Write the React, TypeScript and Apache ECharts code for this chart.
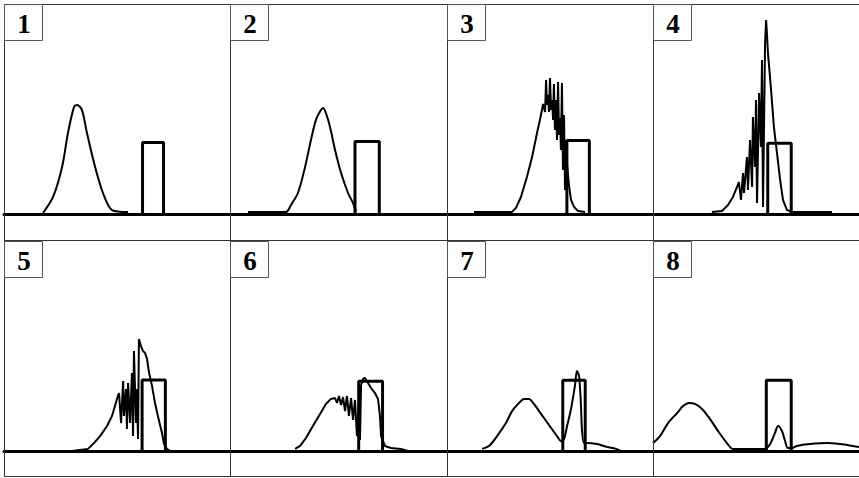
import { useEffect, useRef } from "react";
import * as echarts from "echarts";

// Panel labels
const panelLabels = ["1", "2", "3", "4", "5", "6", "7", "8"];

// Wave packet |psi|^2 per panel: [position, amplitude]
const wave1: number[][] = [
  [17.3, 0.5], [21.7, 8.1], [25.7, 22.4], [28.3, 38.6], [31, 51], [32.3, 51.9],
  [34.5, 49.5], [36.7, 38.6], [40.3, 22.4], [43.8, 10], [47.8, 1.9], [54.9, 1],
];
const wave2: number[][] = [
  [8.3, 1], [25.8, 1], [28.1, 4.3], [31.3, 10], [34.6, 22.4], [37.3, 35.2], [39.6, 44.8],
  [41.9, 49.5], [42.9, 50.5], [44.2, 48.1], [46.1, 41.4], [48.4, 30.5], [51.2, 19.5],
  [54.4, 10], [56.7, 5.2], [58.1, 1],
];
const wave3: number[][] = [
  [13.1, 1], [31.6, 1], [33.5, 2.9], [35.9, 8.1], [38.8, 17.6], [41.3, 27.1], [43.7, 38.6],
  [45.1, 44.8], [46.1, 49.5], [46.6, 52.4], [47.6, 48.6], [48.1, 63.8], [48.5, 51.9],
  [49, 56.7], [49.5, 48.6], [50, 64.8], [50.5, 49.5], [51, 54.3], [51.5, 44.8], [51.9, 61.9],
  [52.4, 40], [52.9, 54.3], [53.4, 35.2], [53.9, 62.9], [54.4, 37.6], [54.9, 45.7],
  [55.3, 30.5], [55.8, 62.4], [56.3, 21], [56.8, 47.1], [57.3, 11.4], [57.8, 35.2],
  [58.3, 23.3], [59.2, 13.8], [60.2, 6.7], [61.7, 3.3], [63.6, 1.4], [67, 1],
];
const wave4: number[][] = [
  [28.6, 1], [33.5, 1.4], [36.4, 4.3], [38.8, 8.1], [40.8, 12.9], [41.7, 15.2], [42.7, 6.7],
  [43.7, 19.5], [44.2, 10], [45.6, 27.1], [46.1, 11.4], [47.1, 35.2], [48.1, 12.9],
  [48.5, 46.2], [49.5, 22.4], [50, 54.3], [50.5, 5.2], [51.5, 57.6], [52.4, 31.9],
  [52.9, 73.3], [53.4, 3.3], [54.4, 81.4], [54.9, 92.4], [55.3, 86.2], [55.8, 76.7],
  [56.8, 65.2], [57.8, 52.9], [58.7, 41.4], [60.2, 29], [61.7, 16.2], [63.1, 6.7],
  [65, 1.9], [67.5, 1], [86.9, 1],
];
const wave5: number[][] = [
  [30.1, 0], [37.2, 1], [39.4, 3.3], [42.5, 7.1], [45.6, 11.9], [47.8, 16.7], [49.1, 21.4],
  [50, 24.8], [50.4, 26.2], [50.9, 27.6], [51.8, 13.3], [52.7, 33.3], [53.1, 16.7],
  [54, 29.5], [54.4, 10.5], [54.9, 32.4], [55.8, 13.3], [56.6, 37.1], [57.1, 7.1],
  [57.5, 47.6], [58.4, 13.3], [58.8, 29.5], [59.3, 5.7], [59.7, 53.3], [60.6, 50],
  [61.5, 47.6], [62.4, 46.7], [63.3, 43.8], [64.2, 37.1], [65.5, 31], [66.8, 22.9],
  [68.1, 16.7], [69.9, 8.6], [70.8, 3.3], [72.1, 1], [73.5, 0],
];
const wave6: number[][] = [
  [30, 1], [32.3, 2.4], [35, 6.2], [38.2, 11.9], [41.5, 17.6], [44.2, 22.4], [46.5, 24.8],
  [48.4, 25.2], [49.3, 22.9], [50.2, 26.2], [51.2, 21.9], [52.1, 25.7], [53, 19],
  [53.9, 26.2], [54.8, 16.7], [55.8, 25.2], [56.7, 14.8], [57.6, 24.3], [58.5, 7.1],
  [59.4, 21.9], [59.9, 5.2], [60.4, 31.4], [61.3, 34.3], [62.2, 34.8], [63.6, 32.4],
  [65, 30], [66.8, 27.6], [68.2, 24.8], [69.1, 16.7], [69.6, 7.1], [71.4, 2.4],
  [74.2, 1.4], [78.8, 1], [82, 0],
];
const wave7: number[][] = [
  [17, 1], [20.4, 2.4], [24.3, 7.1], [28.6, 13.3], [31.6, 19], [35, 22.9], [37.4, 24.8],
  [39.8, 24.8], [42.2, 22.4], [44.7, 19], [47.1, 15.7], [50.5, 11], [53.4, 7.1],
  [55.3, 4.8], [56.8, 5.7], [58.3, 11.9], [60.2, 20], [62.1, 31], [63.1, 38.1],
  [64.1, 35.7], [65, 22.4], [65.5, 10.5], [66.5, 3.8], [68, 3.8], [72.8, 3.3],
  [77.7, 1.9], [82, 1], [84.5, 0],
];
const wave8: number[][] = [
  [0, 3.8], [3.4, 7.1], [7.3, 13.3], [11.7, 18.1], [14.6, 21.4], [17.5, 22.9], [20.4, 22.4],
  [23.8, 20], [27.7, 15.2], [31.6, 9.5], [35.9, 3.8], [38.8, 1], [54.4, 1], [56.8, 3.3],
  [59.2, 8.6], [60.7, 11.9], [62.6, 9.5], [64.1, 4.8], [65.5, 1.4], [67.5, 1.4],
  [69.9, 2.4], [76.2, 3.3], [84.5, 3.8], [90.8, 3.3], [97.1, 2.4], [100, 1.9],
];
const waves = [wave1, wave2, wave3, wave4, wave5, wave6, wave7, wave8];

// Potential barrier per panel
const barrierLeft = [61.3, 57.6, 58.2, 55.7, 61.1, 59.3, 56.2, 55];
const barrierRight = [70.6, 68.8, 69.1, 67.1, 71.4, 70.3, 67.1, 67.1];
const barrierHeight = [34, 34.5, 35, 33.7, 33.8, 33.2, 33.7, 33.7];

// Layout (pixels)
const panelLeft = [4, 230, 447, 653, 4, 230, 447, 653];
const panelWidth = [226, 217, 206, 206, 226, 217, 206, 206];
const panelTop = [4, 4, 4, 4, 241, 241, 241, 241];
const plotHeight = 210;
const smoothPanels = [0, 1, 6, 7];

export default function App() {
  const ref = useRef<HTMLDivElement>(null);
  useEffect(() => {
    if (!ref.current) return;
    const chart = echarts.init(ref.current, null, { renderer: "svg" });
    const idx = panelLabels.map((_, i) => i);
    const graphic: any[] = [];
    [4.5, 240.5, 476.5].forEach((y) =>
      graphic.push({
        type: "line",
        shape: { x1: 4, y1: y, x2: 859, y2: y },
        style: { stroke: "#333", lineWidth: 1 },
        z: 50,
      })
    );
    [4.5, 230.5, 447.5, 653.5].forEach((x) =>
      graphic.push({
        type: "line",
        shape: { x1: x, y1: 4, x2: x, y2: 477 },
        style: { stroke: "#333", lineWidth: 1 },
        z: 50,
      })
    );
    idx.forEach((i) => {
      graphic.push({
        type: "rect",
        shape: { x: panelLeft[i] + 0.5, y: panelTop[i] + 0.5, width: 38, height: 36 },
        style: { fill: "#fff", stroke: "#555", lineWidth: 1 },
        z: 60,
      });
      graphic.push({
        type: "text",
        x: panelLeft[i] + 20,
        y: panelTop[i] + 20,
        style: {
          text: panelLabels[i],
          fontFamily: "Liberation Serif",
          fontWeight: "bold",
          fontSize: 27,
          textAlign: "center",
          textVerticalAlign: "middle",
          fill: "#000",
        },
        z: 61,
      });
    });

    const option: any = {
      animation: false,
      backgroundColor: "#fff",
      grid: idx.map((i) => ({
        left: panelLeft[i],
        top: panelTop[i],
        width: panelWidth[i],
        height: plotHeight,
        containLabel: false,
      })),
      xAxis: idx.map((i) => ({
        gridIndex: i,
        type: "value",
        min: 0,
        max: 100,
        axisLine: { show: true, onZero: true, lineStyle: { color: "#000", width: 3 } },
        axisTick: { show: false },
        axisLabel: { show: false },
        splitLine: { show: false },
      })),
      yAxis: idx.map((i) => ({
        gridIndex: i,
        type: "value",
        min: 0,
        max: 100,
        show: false,
        splitLine: { show: false },
      })),
      series: [
        ...idx.map((i) => ({
          type: "line",
          xAxisIndex: i,
          yAxisIndex: i,
          data: waves[i],
          symbol: "none",
          smooth: smoothPanels.includes(i) ? 0.3 : false,
          lineStyle: { color: "#000", width: 2 },
          z: 3,
        })),
        ...idx.map((i) => ({
          type: "line",
          xAxisIndex: i,
          yAxisIndex: i,
          data: [
            [barrierLeft[i], 0],
            [barrierLeft[i], barrierHeight[i]],
            [barrierRight[i], barrierHeight[i]],
            [barrierRight[i], 0],
          ],
          symbol: "none",
          lineStyle: { color: "#000", width: 3 },
          z: 4,
        })),
      ],
      graphic,
    };
    chart.setOption(option);
    return () => chart.dispose();
  }, []);
  return (
    <div
      ref={ref}
      style={{ position: "fixed", left: 0, top: 0, width: 859, height: 478, background: "#fff" }}
    />
  );
}
